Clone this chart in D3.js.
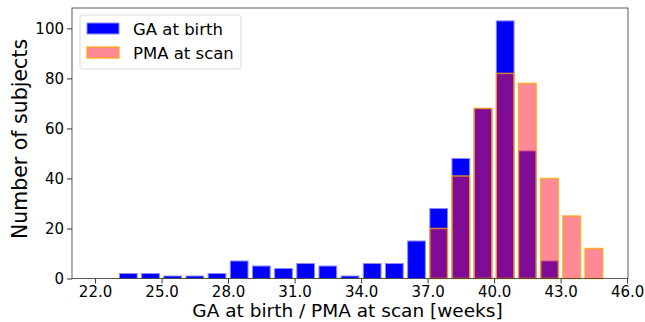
<!DOCTYPE html>
<html>
<head>
<meta charset="utf-8">
<script src="https://cdn.jsdelivr.net/npm/d3@7"></script>
<style>
  body { margin: 0; background: white; }
  text { font-family: "DejaVu Sans", sans-serif; }
</style>
</head>
<body>
<div id="chart"></div>
<script>
// bins are 1 week wide, start of each bin
let bins = [22,23,24,25,26,27,28,29,30,31,32,33,34,35,36,37,38,39,40,41,42,43,44];
let gaBirth = [0,2,2,1,1,2,7,5,4,6,5,1,6,6,15,28,48,68,103,51,7,0,0];
let pmaScan = [0,0,0,0,0,0,0,0,0,0,0,0,0,0,0,20,41,68,82,78,40,25,12];
let xTicks = [22,25,28,31,34,37,40,43,46];
let yTicks = [0,20,40,60,80,100];

let larg = 645;
let alt = 322;
let m = {left: 72, right: 17, top: 8, bottom: 43.5};

let canvas = d3.select("#chart")
                .append("svg")
                .attr("width", larg)
                .attr("height", alt);

var escX = d3.scaleLinear()
                .domain([20.96, 46.04])
                .range([m.left, larg - m.right]);

var escY = d3.scaleLinear()
                .domain([0, 108.15])
                .range([alt - m.bottom, m.top]);

// GA at birth (drawn first)
canvas.append("g")
    .selectAll("rect")
    .data(bins.map((b, i) => ({b: b, v: gaBirth[i]})).filter(d => d.v > 0))
    .enter()
        .append("rect")
        .attr("x", d => escX(d.b + 0.1))
        .attr("width", d => escX(d.b + 0.9) - escX(d.b + 0.1))
        .attr("y", d => escY(d.v))
        .attr("height", d => escY(0) - escY(d.v))
        .attr("fill", "#0000ff")
        .attr("stroke", "#8c8cff")
        .attr("stroke-width", 1);

// PMA at scan, semi transparent on top
canvas.append("g")
    .selectAll("rect")
    .data(bins.map((b, i) => ({b: b, v: pmaScan[i]})).filter(d => d.v > 0))
    .enter()
        .append("rect")
        .attr("x", d => escX(d.b + 0.1))
        .attr("width", d => escX(d.b + 0.9) - escX(d.b + 0.1))
        .attr("y", d => escY(d.v))
        .attr("height", d => escY(0) - escY(d.v))
        .attr("fill", "#ff162c")
        .attr("fill-opacity", 0.5)
        .attr("stroke", "orange")
        .attr("stroke-opacity", 0.75)
        .attr("stroke-width", 1.5);

// axes
var eixoX = d3.axisBottom(escX)
                .tickValues(xTicks)
                .tickFormat(d3.format(".1f"))
                .tickSizeOuter(0)
                .tickSize(5);
var eixoY = d3.axisLeft(escY)
                .tickValues(yTicks)
                .tickSizeOuter(0)
                .tickSize(5);

canvas.append("g")
    .attr("transform", `translate(0,${alt - m.bottom})`)
    .call(eixoX)
    .call(g => g.selectAll("text")
        .style("font-size", "15px")
        .attr("fill", "#000")
        .attr("y", 18)
        .attr("dy", 0));

canvas.append("g")
    .attr("transform", `translate(${m.left},0)`)
    .call(eixoY)
    .call(g => g.selectAll("text").style("font-size", "15px").attr("fill", "#000"));

canvas.selectAll(".domain").remove();
canvas.selectAll(".tick line").attr("stroke", "#000").attr("stroke-width", 0.8);

// frame
canvas.append("rect")
    .attr("x", m.left)
    .attr("y", m.top)
    .attr("width", larg - m.left - m.right)
    .attr("height", alt - m.top - m.bottom)
    .attr("fill", "none")
    .attr("stroke", "#333")
    .attr("stroke-width", 0.8);

// labels
canvas.append("text")
    .attr("x", 347.5)
    .attr("y", 317.3)
    .attr("text-anchor", "middle")
    .style("font-size", "18.5px")
    .text("GA at birth / PMA at scan [weeks]");

canvas.append("text")
    .attr("transform", "translate(27,139) rotate(-90)")
    .attr("text-anchor", "middle")
    .style("font-size", "20.5px")
    .text("Number of subjects");

// legend
let leg = canvas.append("g");
leg.append("rect")
    .attr("x", 80).attr("y", 15)
    .attr("width", 161).attr("height", 54)
    .attr("rx", 3)
    .attr("fill", "white")
    .attr("fill-opacity", 0.8)
    .attr("stroke", "#d9d9d9");
leg.append("rect")
    .attr("x", 87).attr("y", 23)
    .attr("width", 32).attr("height", 11)
    .attr("fill", "#0000ff")
    .attr("stroke", "#8c8cff");
leg.append("rect")
    .attr("x", 87).attr("y", 47)
    .attr("width", 32).attr("height", 11)
    .attr("fill", "#ff162c")
    .attr("fill-opacity", 0.5)
    .attr("stroke", "orange")
    .attr("stroke-opacity", 0.75)
    .attr("stroke-width", 1.5);
leg.append("text")
    .attr("x", 133).attr("y", 35)
    .style("font-size", "16.5px")
    .text("GA at birth");
leg.append("text")
    .attr("x", 133).attr("y", 59)
    .style("font-size", "16.5px")
    .text("PMA at scan");
</script>
</body>
</html>
